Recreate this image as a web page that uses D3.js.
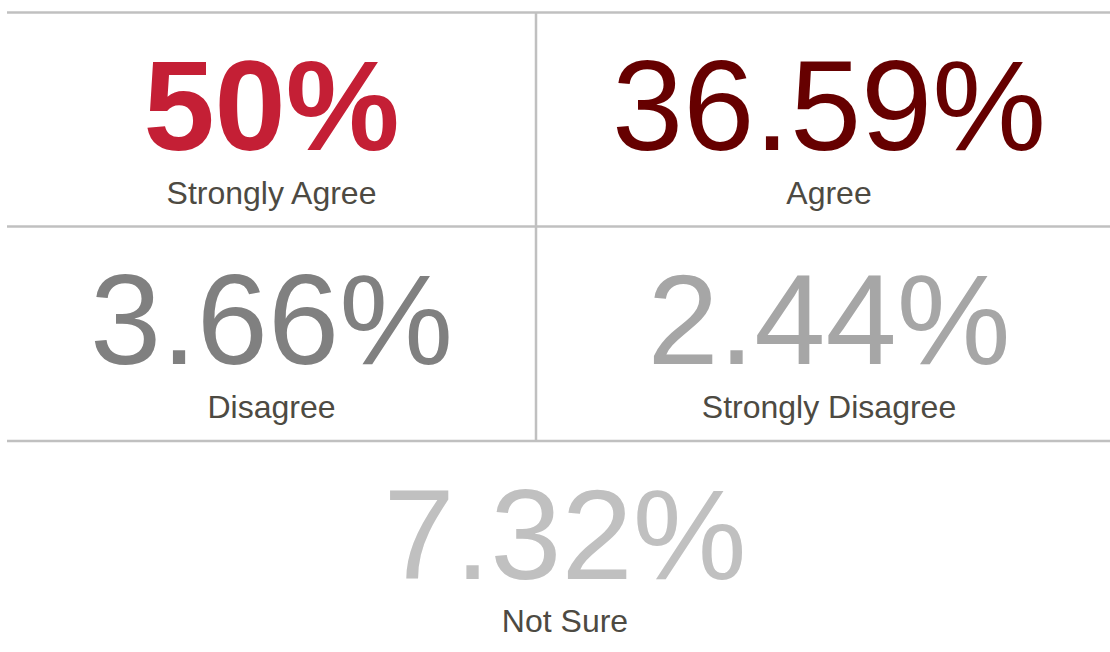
<!DOCTYPE html>
<html>
<head>
<meta charset="utf-8">
<script src="https://cdn.jsdelivr.net/npm/d3@7"></script>
<style>
  html, body { margin: 0; padding: 0; background: #fff; }
  svg { display: block; }
</style>
</head>
<body>
<svg id="chart" width="1110" height="652"></svg>
<script>
// ---- data ----
const categories = ["Strongly Agree", "Agree", "Disagree", "Strongly Disagree", "Not Sure"];
const values = [50, 36.59, 3.66, 2.44, 7.32];
const colors = ["#c41f35", "#660000", "#808080", "#a6a6a6", "#c0c0c0"];

// ---- layout ----
const svg = d3.select("#chart");
const font = "'Liberation Sans', Arial, Helvetica, sans-serif";

const rowY = d3.scaleOrdinal().domain([0, 1, 2]).range([12.5, 226.5, 441]);
const colX = d3.scaleOrdinal().domain(["L", "R", "C"]).range([271.5, 829, 565]);
const color = d3.scaleOrdinal().domain(categories).range(colors);

const cells = categories.map((c, i) => ({
  cat: c,
  val: values[i],
  row: Math.floor(i / 2),
  col: i === 4 ? "C" : (i % 2 === 0 ? "L" : "R"),
  bold: i === 0
}));

// grid lines
const lineColor = "#c0c0c0";
const grid = svg.append("g");
[0, 1, 2].forEach(r => {
  grid.append("line")
    .attr("x1", 7).attr("x2", 1110)
    .attr("y1", rowY(r)).attr("y2", rowY(r))
    .attr("stroke", lineColor).attr("stroke-width", 2.5);
});
grid.append("line")
  .attr("x1", 536).attr("x2", 536)
  .attr("y1", rowY(0)).attr("y2", rowY(2))
  .attr("stroke", lineColor).attr("stroke-width", 2.5);

const g = svg.append("g").selectAll("g").data(cells).join("g")
  .attr("transform", d => `translate(${colX(d.col)},${rowY(d.row)})`);

g.append("text")
  .attr("text-anchor", "middle")
  .attr("y", 137.5)
  .attr("font-family", font)
  .attr("font-size", 128)
  .attr("font-weight", d => d.bold ? "bold" : "normal")
  .attr("fill", d => color(d.cat))
  .text(d => d.val + "%");

g.append("text")
  .attr("text-anchor", "middle")
  .attr("y", 191)
  .attr("font-family", font)
  .attr("font-size", 32)
  .attr("fill", "#4d4a42")
  .text(d => d.cat);
</script>
</body>
</html>
